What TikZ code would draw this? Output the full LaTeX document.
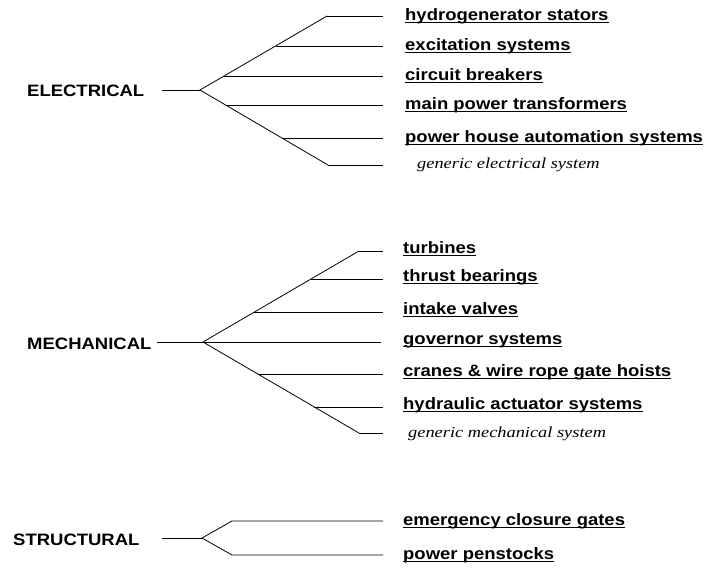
\documentclass[tikz,border=0pt]{standalone}
\usepackage{fontspec}
\setmainfont{Liberation Sans}[FakeStretch=1.12]
\newfontfamily\itfont{Liberation Serif}[FakeStretch=1.2]
\newcommand\ulbox[1]{\setbox0\hbox{#1}\rlap{\rule[-2.8pt]{\wd0}{0.9pt}}\box0}
\tikzset{
  conn/.style={line width=0.8pt, line join=miter},
  sect/.style={inner sep=0pt, anchor=base west, font=\fontsize{16.5}{18}\selectfont\bfseries},
  leaf/.style={inner sep=0pt, anchor=base west, font=\fontsize{16.5}{18}\selectfont\bfseries},
  genleaf/.style={inner sep=0pt, anchor=base west, font=\fontsize{15.3}{17}\selectfont\itfont\itshape},
}
\begin{document}
\begin{tikzpicture}[x=1pt,y=-1pt]
\useasboundingbox (0,0) rectangle (711,571);
% ---------------- ELECTRICAL ----------------
\node[sect] (elec) at (27,96.7) {ELECTRICAL};
\coordinate (es) at (162,90);
\coordinate (ef) at (200,90);
\coordinate (e1s) at (327,16);   \coordinate (e1r) at (383,16);
\coordinate (e2s) at (275.5,46); \coordinate (e2r) at (383,46);
\coordinate (e3s) at (224,76);   \coordinate (e3r) at (383,76);
\coordinate (e4s) at (225.6,105);\coordinate (e4r) at (383,105);
\coordinate (e5s) at (281.9,138);\coordinate (e5r) at (383,138);
\coordinate (e6s) at (328,165);  \coordinate (e6r) at (383,165);
\draw[conn] (es) -- (ef);
\draw[conn] (e1s) -- (ef) -- (e6s);
\foreach \i in {1,...,6} {\draw[conn] (e\i s) -- (e\i r);}
\node[leaf] (e1) at (405,20.5) {\ulbox{hydrogenerator stators}};
\node[leaf] (e2) at (405,50.5) {\ulbox{excitation systems}};
\node[leaf] (e3) at (405,80.5) {\ulbox{circuit breakers}};
\node[leaf] (e4) at (405,109.5) {\ulbox{main power transformers}};
\node[leaf] (e5) at (405,142.5) {\ulbox{power house automation systems}};
\node[genleaf] (e6) at (417,168) {generic electrical system};
% ---------------- MECHANICAL ----------------
\node[sect] (mech) at (27,349.3) {MECHANICAL};
\coordinate (ms) at (157,342);
\coordinate (mf) at (203,342);
\coordinate (m1s) at (359,251);  \coordinate (m1r) at (383,251);
\coordinate (m2s) at (311,279);  \coordinate (m2r) at (383,279);
\coordinate (m3s) at (254.4,312);\coordinate (m3r) at (383,312);
\coordinate (m4s) at (203,342);  \coordinate (m4r) at (381,342);
\coordinate (m5s) at (257.9,374);\coordinate (m5r) at (383,374);
\coordinate (m6s) at (314.4,407);\coordinate (m6r) at (383,407);
\coordinate (m7s) at (359,433);  \coordinate (m7r) at (383,433);
\draw[conn] (ms) -- (mf);
\draw[conn] (m1s) -- (mf) -- (m7s);
\foreach \i in {1,...,7} {\draw[conn] (m\i s) -- (m\i r);}
\node[leaf] (m1) at (403,253.5) {\ulbox{turbines}};
\node[leaf] (m2) at (403,281.5) {\ulbox{thrust bearings}};
\node[leaf] (m3) at (403,314.5) {\ulbox{intake valves}};
\node[leaf] (m4) at (403,344.5) {\ulbox{governor systems}};
\node[leaf] (m5) at (403,376.5) {\ulbox{cranes \& wire rope gate hoists}};
\node[leaf] (m6) at (403,409.5) {\ulbox{hydraulic actuator systems}};
\node[genleaf] (m7) at (408,437) {generic mechanical system};
% ---------------- STRUCTURAL ----------------
\node[sect] (struc) at (13,545) {STRUCTURAL};
\coordinate (ss) at (162,538);
\coordinate (sf) at (202,538);
\coordinate (s1s) at (232,521); \coordinate (s1r) at (383,521);
\coordinate (s2s) at (232,555); \coordinate (s2r) at (383,555);
\draw[conn] (ss) -- (sf);
\draw[conn] (s1r) -- (s1s) -- (sf) -- (s2s) -- (s2r);
\node[leaf] (s1) at (403,525.5) {\ulbox{emergency closure gates}};
\node[leaf] (s2) at (403,559.5) {\ulbox{power penstocks}};
\end{tikzpicture}
\end{document}
